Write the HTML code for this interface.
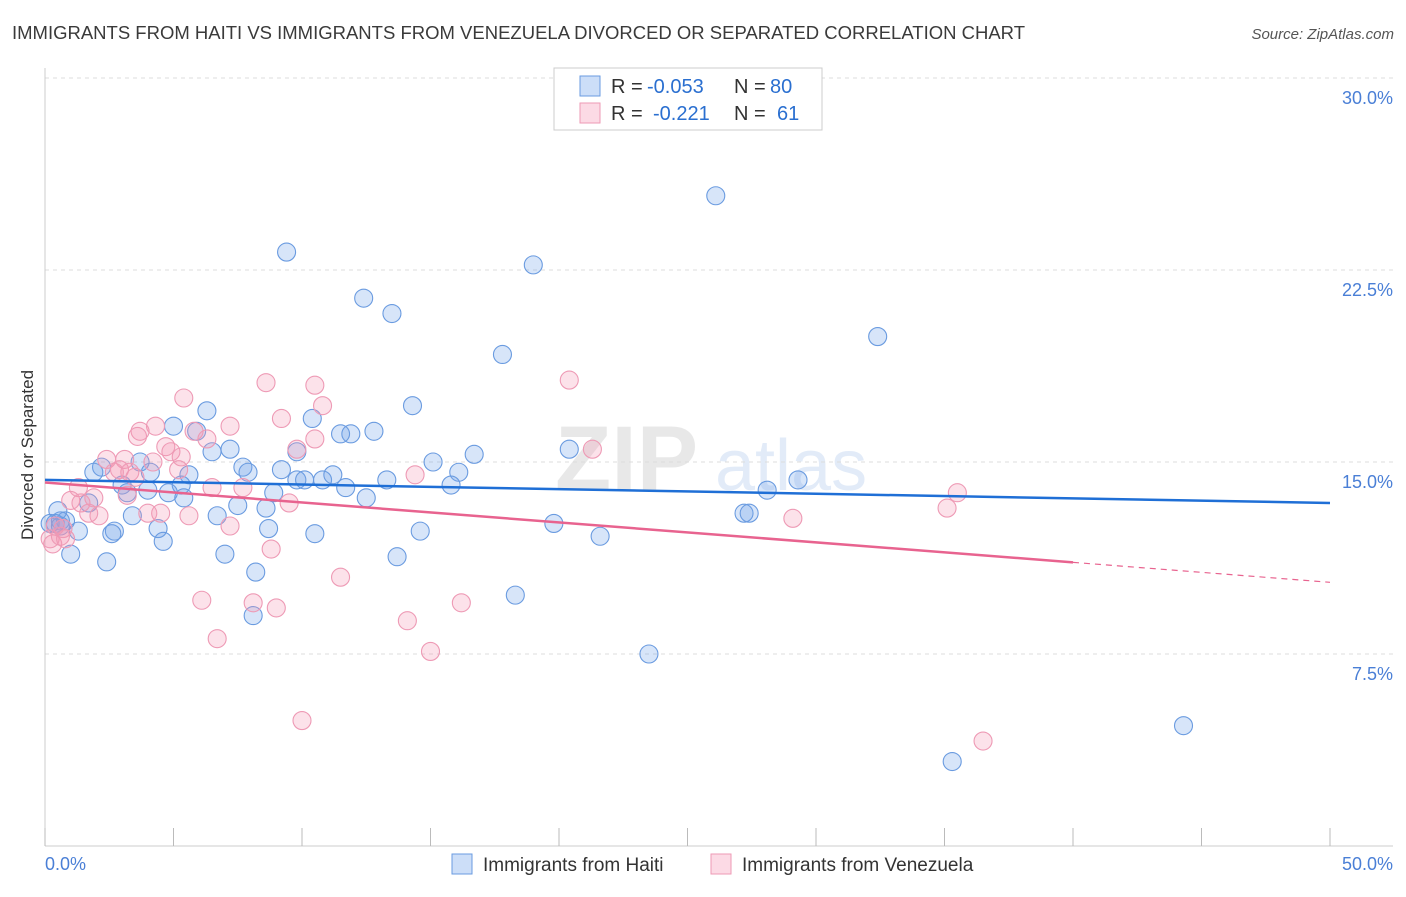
<!DOCTYPE html>
<html><head><meta charset="utf-8"><style>
body{margin:0;background:#fff;font-family:"Liberation Sans",sans-serif}
svg text{font-family:"Liberation Sans",sans-serif}
</style></head><body>
<svg id="chart" width="1406" height="892" viewBox="0 0 1406 892" xmlns="http://www.w3.org/2000/svg">
<text x="12" y="39" font-size="18" fill="#3a3a3a" textLength="1013" lengthAdjust="spacingAndGlyphs">IMMIGRANTS FROM HAITI VS IMMIGRANTS FROM VENEZUELA DIVORCED OR SEPARATED CORRELATION CHART</text>
<text x="1394" y="39" font-size="15" fill="#555" text-anchor="end" font-style="italic">Source: ZipAtlas.com</text>
<g opacity="0.13">
<text x="555" y="490" font-size="92" font-family="Liberation Serif" fill="#555" font-weight="bold">ZIP</text>
<text x="715" y="490" font-size="72" fill="#2a6fd0">atlas</text>
</g>
<g id="grid"></g>
<g id="axes"></g>
<g id="marks"></g>
<text transform="translate(33,455) rotate(-90)" text-anchor="middle" font-size="17" fill="#333">Divorced or Separated</text>
<g>
<rect x="554" y="68" width="268" height="62" fill="#fff" stroke="#ccc"/>
<rect x="580" y="76" width="20" height="20" fill="rgba(110,160,235,0.35)" stroke="#6a9be0"/>
<rect x="580" y="103" width="20" height="20" fill="rgba(245,150,180,0.35)" stroke="#ee9ab5"/>
<text x="611" y="93" font-size="20" fill="#333">R =</text>
<text x="647" y="93" font-size="20" fill="#2a6fd0">-0.053</text>
<text x="734" y="93" font-size="20" fill="#333">N =</text>
<text x="770" y="93" font-size="20" fill="#2a6fd0">80</text>
<text x="611" y="120" font-size="20" fill="#333">R =</text>
<text x="653" y="120" font-size="20" fill="#2a6fd0">-0.221</text>
<text x="734" y="120" font-size="20" fill="#333">N =</text>
<text x="777" y="120" font-size="20" fill="#2a6fd0">61</text>
</g>
<g>
<rect x="452" y="854" width="20" height="20" fill="rgba(110,160,235,0.35)" stroke="#6a9be0"/>
<text x="483" y="871" font-size="19" fill="#333">Immigrants from Haiti</text>
<rect x="711" y="854" width="20" height="20" fill="rgba(245,150,180,0.35)" stroke="#ee9ab5"/>
<text x="742" y="871" font-size="19" fill="#333">Immigrants from Venezuela</text>
</g>
</svg>
<script>
const haitiX=[26.1,9.4,19.0,12.4,13.5,32.4,17.8,14.3,6.3,5.0,10.4,5.9,12.8,11.9,11.5,7.2,6.5,9.8,20.4,16.7,15.1,16.1,2.2,3.7,1.9,4.1,7.7,7.9,9.2,5.6,3.0,5.3,3.2,4.0,4.8,5.4,8.9,9.8,10.1,10.8,11.2,11.7,12.5,13.3,15.8,29.3,28.1,0.5,1.7,0.8,0.4,1.3,2.7,4.4,6.7,7.5,8.6,8.7,10.5,14.6,19.8,21.6,27.2,27.4,3.4,2.6,4.6,1.0,2.4,7.0,8.2,8.1,13.7,18.3,23.5,44.3,35.3,0.2,0.6,0.6];
const haitiY=[25.4,23.2,22.7,21.4,20.8,19.9,19.2,17.2,17.0,16.4,16.7,16.2,16.2,16.1,16.1,15.5,15.4,15.4,15.5,15.3,15.0,14.6,14.8,15.0,14.6,14.6,14.8,14.6,14.7,14.5,14.1,14.1,13.8,13.9,13.8,13.6,13.8,14.3,14.3,14.3,14.5,14.0,13.6,14.3,14.1,14.3,13.9,13.1,13.4,12.7,12.6,12.3,12.3,12.4,12.9,13.3,13.2,12.4,12.2,12.3,12.6,12.1,13.0,13.0,12.9,12.2,11.9,11.4,11.1,11.4,10.7,9.0,11.3,9.8,7.5,4.7,3.3,12.6,12.7,12.5];
const venX=[5.4,8.6,10.5,10.8,20.4,9.2,7.2,4.3,3.7,5.8,6.3,3.6,10.5,9.8,4.7,4.9,5.3,2.4,3.1,2.9,4.2,5.2,3.3,2.7,3.5,1.3,6.5,7.7,1.9,3.2,1.0,1.4,2.1,1.7,4.5,4.0,5.6,7.2,9.5,14.4,21.3,35.5,35.1,29.1,8.8,11.5,6.1,8.1,9.0,16.2,14.1,15.0,6.7,10.0,36.5,0.3,0.2,0.6,0.7,0.8,0.4];
const venY=[17.5,18.1,18.0,17.2,18.2,16.7,16.4,16.4,16.2,16.2,15.9,16.0,15.9,15.5,15.6,15.4,15.2,15.1,15.1,14.7,15.0,14.7,14.6,14.6,14.4,14.0,14.0,14.0,13.6,13.7,13.5,13.4,12.9,13.0,13.0,13.0,12.9,12.5,13.4,14.5,15.5,13.8,13.2,12.8,11.6,10.5,9.6,9.5,9.3,9.5,8.8,7.6,8.1,4.9,4.1,11.8,12.0,12.1,12.4,12.0,12.5];
const haitiTrend=[14.3,13.4];   // y at x=0 and x=50
const venTrend=[14.2,10.3];     // y at x=0 and x=50
const venSolidEnd=40;
const yTicks=[7.5,15,22.5,30];
const yTickLabels=["7.5%","15.0%","22.5%","30.0%"];
const xTicks=[0,5,10,15,20,25,30,35,40,45,50];

const NS="http://www.w3.org/2000/svg";
const X0=45,X1=1330,Y0=846,YTOP=78;
const sx=v=>X0+(v/50)*(X1-X0);
const sy=v=>Y0-(v/30)*(Y0-YTOP);
function mk(tag,attrs,parent){const e=document.createElementNS(NS,tag);for(const k in attrs)e.setAttribute(k,attrs[k]);parent.appendChild(e);return e;}
const grid=document.getElementById('grid'),axes=document.getElementById('axes'),marks=document.getElementById('marks');
yTicks.forEach((t,i)=>{
  const l=mk('line',{x1:X0,x2:1393,y1:sy(t),y2:sy(t),stroke:'#dcdcdc','stroke-dasharray':'4,4'},grid);
  
  
  const tx=mk('text',{x:1393,y:sy(t)+26,'text-anchor':'end','font-size':18,fill:'#4a7fd6'},axes);
  tx.textContent=yTickLabels[i];
  
  
});
const la=mk('line',{x1:X0,x2:X0,y1:68,y2:Y0,stroke:'#ccc'},axes);


const ba=mk('line',{x1:X0,x2:1393,y1:Y0,y2:Y0,stroke:'#ccc'},axes);


xTicks.forEach(t=>{
  const tk=mk('line',{x1:sx(t),x2:sx(t),y1:828,y2:Y0,stroke:'#bbb'},axes);
  
  
});
const xl0=mk('text',{x:45,y:870,'font-size':18,fill:'#4a7fd6'},axes);xl0.textContent='0.0%';


const xl1=mk('text',{x:1393,y:870,'text-anchor':'end','font-size':18,fill:'#4a7fd6'},axes);xl1.textContent='50.0%';



haitiX.forEach((x,i)=>{
  const c=mk('circle',{cx:sx(x),cy:sy(haitiY[i]),r:9,fill:'rgba(110,160,235,0.28)',stroke:'#6a9be0','stroke-width':1.1},marks);
  
  
});
venX.forEach((x,i)=>{
  const c=mk('circle',{cx:sx(x),cy:sy(venY[i]),r:9,fill:'rgba(245,150,180,0.28)',stroke:'#ee9ab5','stroke-width':1.1},marks);
  
  
});
const hl=mk('line',{x1:sx(0),y1:sy(haitiTrend[0]),x2:sx(50),y2:sy(haitiTrend[1]),stroke:'#1f6fd6','stroke-width':2.5},marks);


const vAt=x=>venTrend[0]+(venTrend[1]-venTrend[0])*x/50;
const vl=mk('line',{x1:sx(0),y1:sy(vAt(0)),x2:sx(venSolidEnd),y2:sy(vAt(venSolidEnd)),stroke:'#e8638f','stroke-width':2.5},marks);


const vd=mk('line',{x1:sx(venSolidEnd),y1:sy(vAt(venSolidEnd)),x2:sx(50),y2:sy(vAt(50)),stroke:'#e8638f','stroke-width':1.2,'stroke-dasharray':'6,5'},marks);


</script>
</body></html>
